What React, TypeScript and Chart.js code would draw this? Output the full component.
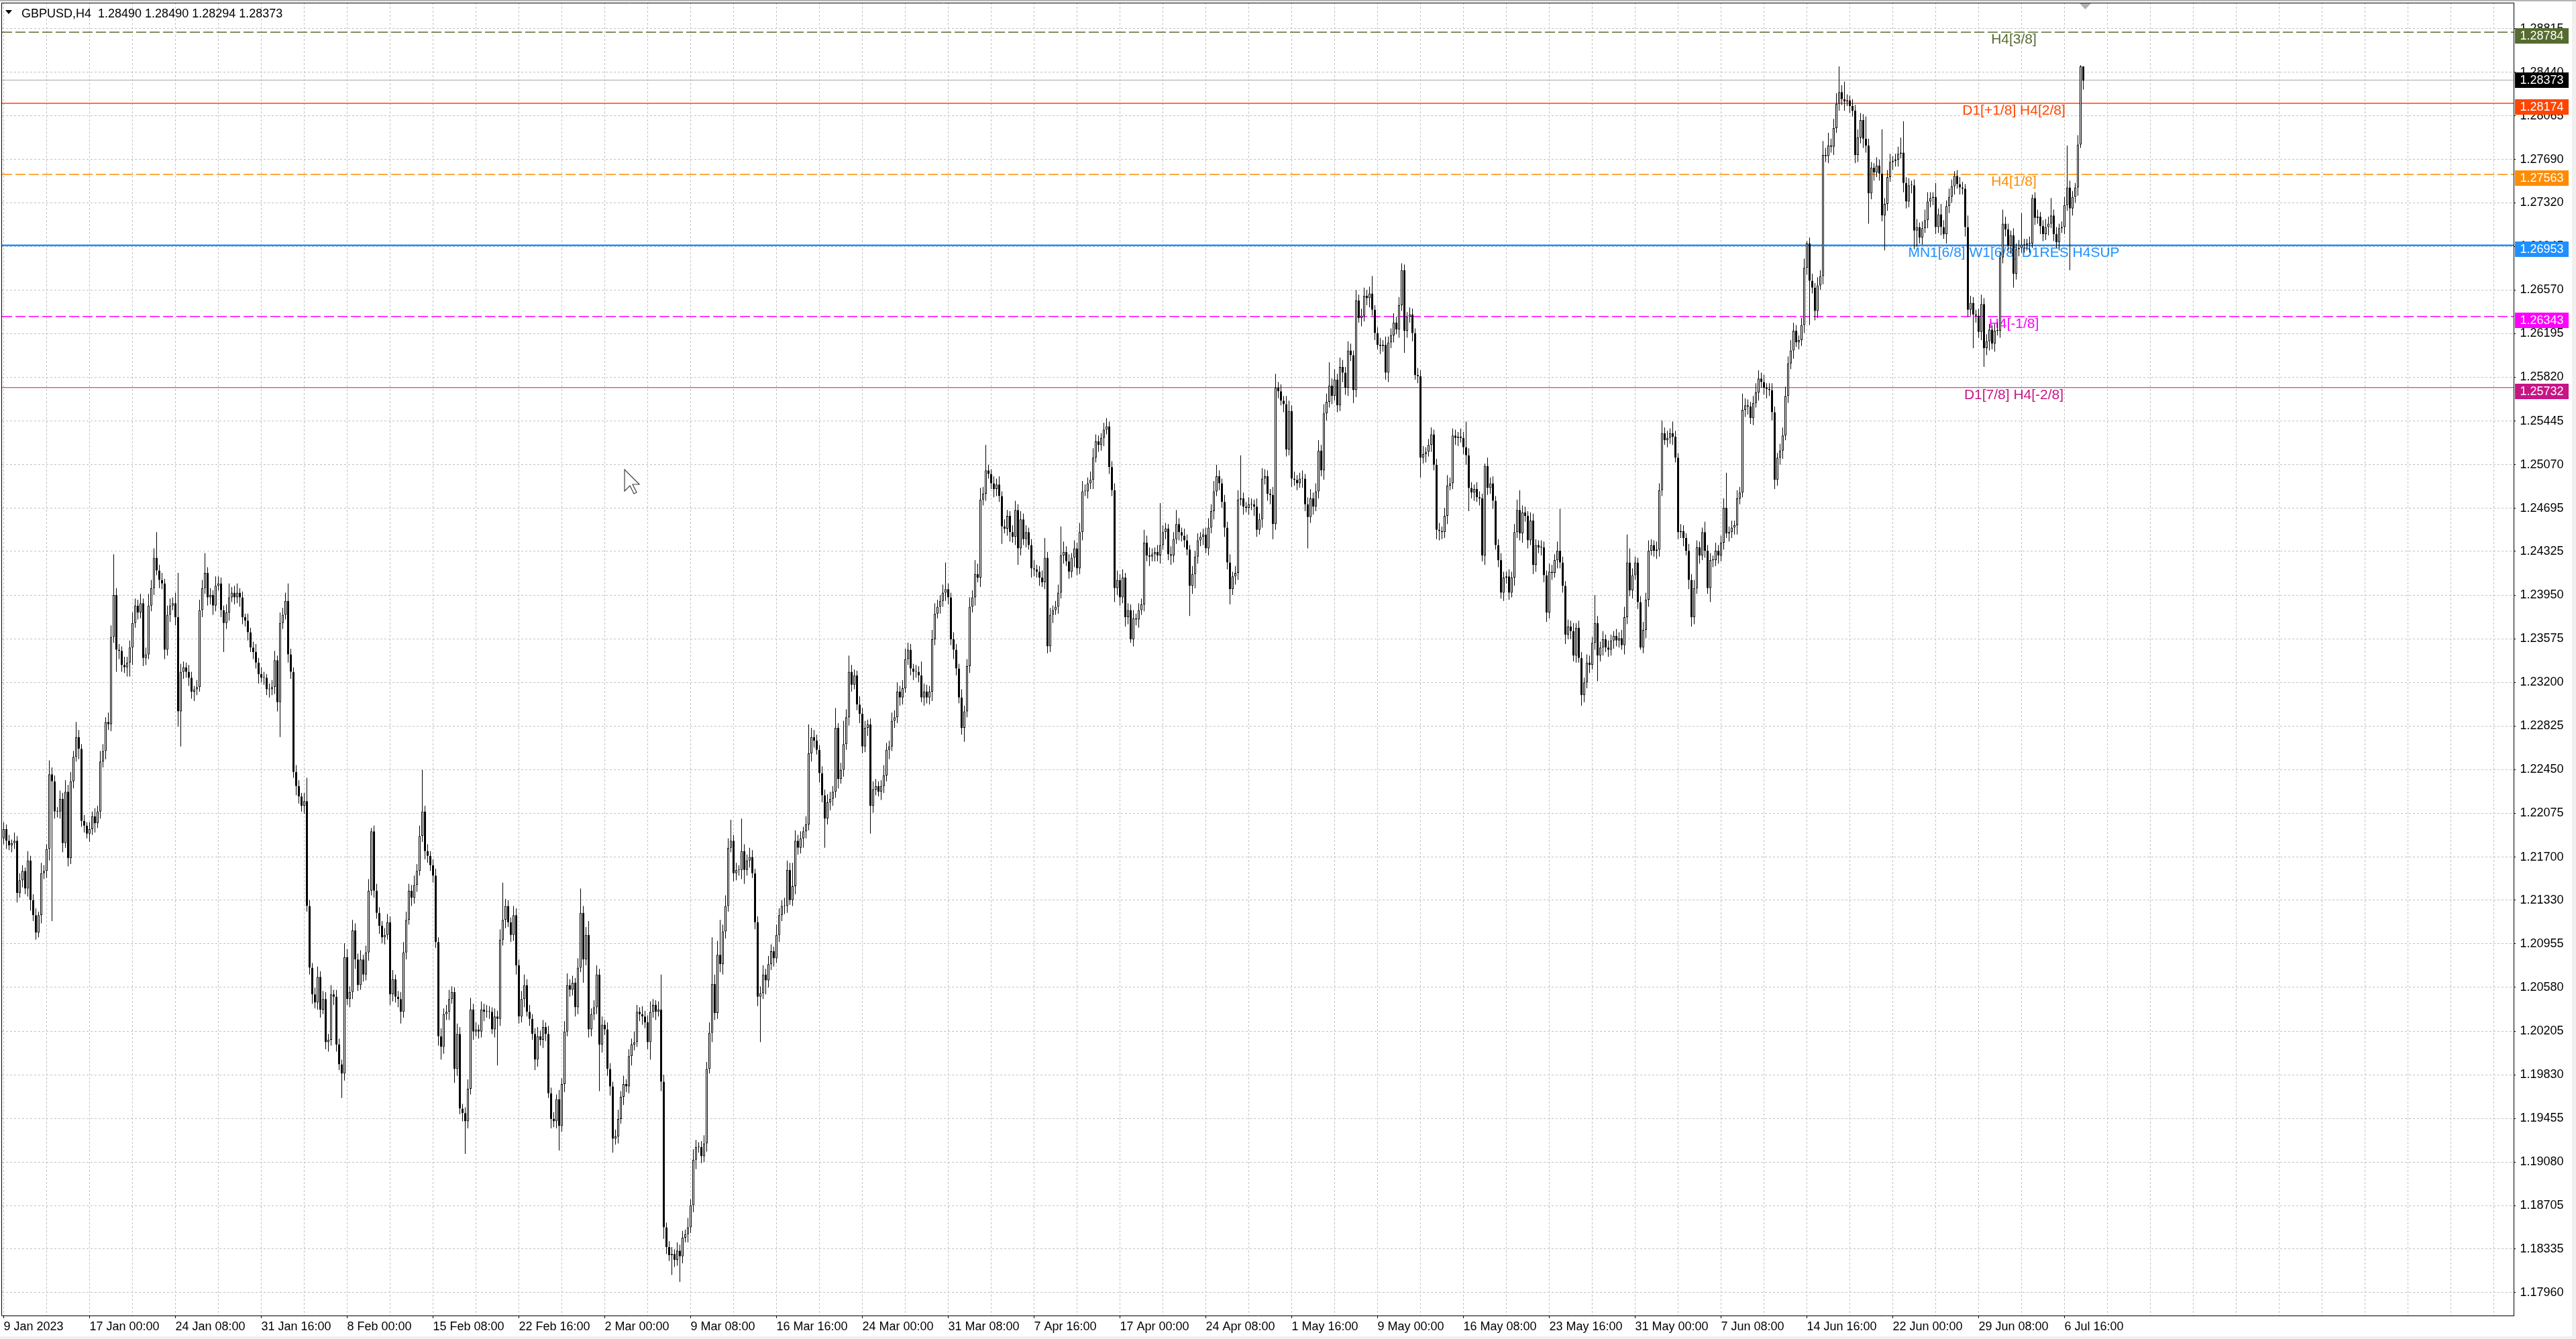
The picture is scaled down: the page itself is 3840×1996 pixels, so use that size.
import React, { useEffect, useRef } from 'react';
import { Chart, registerables } from 'chart.js';

Chart.register(...registerables);

const FONT = "'Liberation Sans', Arial, sans-serif";

const symbolTitle = 'GBPUSD,H4  1.28490 1.28490 1.28294 1.28373';

const timeLabels = [
  '9 Jan 2023', '17 Jan 00:00', '24 Jan 08:00', '31 Jan 16:00', '8 Feb 00:00', '15 Feb 08:00',
  '22 Feb 16:00', '2 Mar 00:00', '9 Mar 08:00', '16 Mar 16:00', '24 Mar 00:00', '31 Mar 08:00',
  '7 Apr 16:00', '17 Apr 00:00', '24 Apr 08:00', '1 May 16:00', '9 May 00:00', '16 May 08:00',
  '23 May 16:00', '31 May 00:00', '7 Jun 08:00', '14 Jun 16:00', '22 Jun 00:00', '29 Jun 08:00',
  '6 Jul 16:00',
];

const priceTicks = [
  1.1796, 1.18335, 1.18705, 1.1908, 1.19455, 1.1983, 1.20205, 1.2058, 1.20955, 1.2133,
  1.217, 1.22075, 1.2245, 1.22825, 1.232, 1.23575, 1.2395, 1.24325, 1.24695, 1.2507,
  1.25445, 1.2582, 1.26195, 1.2657, 1.26945, 1.2732, 1.2769, 1.28065, 1.2844, 1.28815,
];

// H4 candles, prices in 1/10000 (e.g. 12194 = 1.2194); open of each bar = previous close
const firstOpenPips = 12186;
const closePips = [
  12194,12184,12180,12182,12184,12139,12150,12158,12143,12167,12133,12120,12105,12120,12156,12158,12177,12241,12235,12209,
  12209,12220,12182,12226,12169,12235,12256,12273,12263,12201,12197,12190,12194,12205,12199,12209,12252,12261,12286,12284,
  12359,12395,12348,12347,12335,12333,12337,12350,12371,12386,12380,12388,12341,12344,12386,12401,12427,12416,12408,12405,
  12348,12378,12386,12388,12376,12295,12329,12333,12329,12324,12312,12314,12316,12382,12401,12414,12393,12395,12386,12403,
  12405,12382,12371,12380,12393,12397,12393,12397,12393,12376,12373,12363,12350,12346,12337,12327,12324,12324,12314,12314,
  12316,12339,12303,12371,12378,12390,12344,12329,12243,12231,12222,12214,12218,12128,12075,12052,12045,12067,12039,12048,
  12011,12013,12052,12050,12009,11992,11984,12084,12048,12054,12107,12082,12060,12082,12069,12088,12141,12192,12141,12122,
  12111,12101,12103,12114,12052,12065,12050,12048,12037,12088,12116,12141,12135,12146,12158,12188,12209,12175,12171,12163,
  12154,12097,12016,12007,12035,12037,12048,12054,11988,12018,11954,11950,11943,11971,12039,12020,12022,12020,12039,12037,
  12037,12037,12022,12033,12031,12099,12116,12128,12114,12103,12120,12077,12033,12048,12060,12037,12031,12018,11996,12016,
  12013,12024,12018,11967,11945,11943,11962,11939,11975,12020,12060,12056,12062,12041,12075,12122,12082,12103,12022,12035,
  12041,12069,12009,12026,12022,11988,11973,11928,11930,11945,11964,11975,11973,11999,12009,12011,12037,12035,12033,12028,
  12011,12037,12043,12037,12039,11977,11852,11835,11828,11829,11824,11832,11827,11843,11846,11852,11871,11910,11921,11921,
  11913,11924,11988,12019,12061,12036,12086,12078,12106,12128,12178,12184,12156,12159,12159,12175,12159,12167,12170,12156,
  12114,12050,12053,12069,12064,12078,12089,12083,12103,12120,12128,12128,12159,12133,12145,12184,12178,12186,12192,12198,
  12259,12273,12270,12262,12242,12223,12203,12217,12220,12226,12281,12237,12245,12267,12290,12329,12318,12326,12301,12293,
  12265,12281,12284,12214,12228,12231,12226,12231,12240,12262,12265,12287,12290,12312,12307,12315,12340,12348,12332,12329,
  12329,12326,12307,12312,12307,12312,12357,12379,12385,12390,12397,12400,12393,12357,12348,12332,12307,12281,12295,12334,
  12385,12393,12413,12410,12477,12482,12502,12499,12491,12486,12490,12480,12454,12452,12463,12449,12445,12468,12435,12460,
  12443,12449,12438,12418,12417,12415,12410,12406,12427,12351,12378,12382,12385,12397,12429,12432,12424,12415,12427,12435,
  12418,12449,12484,12484,12491,12494,12513,12527,12524,12530,12537,12540,12505,12485,12401,12408,12393,12410,12376,12382,
  12357,12375,12374,12382,12387,12440,12429,12428,12430,12432,12429,12438,12449,12452,12430,12429,12443,12456,12449,12446,
  12442,12434,12403,12413,12428,12442,12445,12447,12435,12453,12467,12484,12497,12491,12475,12453,12423,12400,12411,12414,
  12477,12478,12471,12470,12473,12473,12471,12451,12460,12495,12497,12482,12481,12456,12573,12570,12562,12559,12520,12553,
  12495,12494,12491,12495,12495,12473,12462,12478,12471,12484,12519,12502,12551,12561,12575,12566,12580,12558,12591,12586,
  12573,12605,12601,12571,12648,12633,12635,12652,12650,12654,12640,12620,12610,12609,12610,12586,12612,12618,12629,12623,
  12644,12674,12622,12634,12636,12620,12584,12583,12513,12516,12518,12524,12533,12507,12451,12450,12449,12463,12489,12491,
  12532,12530,12531,12530,12522,12515,12487,12483,12486,12479,12478,12429,12506,12487,12491,12476,12438,12425,12397,12410,
  12411,12397,12410,12449,12468,12448,12466,12463,12442,12459,12421,12438,12436,12436,12412,12380,12415,12414,12425,12433,
  12423,12403,12361,12368,12364,12343,12367,12341,12309,12320,12337,12335,12354,12371,12343,12350,12357,12350,12348,12356,
  12360,12356,12358,12352,12376,12423,12399,12412,12423,12389,12350,12365,12391,12433,12438,12433,12434,12485,12534,12528,
  12530,12534,12531,12513,12449,12450,12444,12433,12408,12376,12401,12436,12429,12449,12433,12401,12425,12425,12433,12429,
  12440,12470,12448,12449,12453,12455,12478,12483,12554,12558,12557,12547,12560,12569,12581,12578,12573,12572,12571,12552,
  12494,12513,12519,12532,12566,12594,12605,12622,12612,12614,12627,12676,12697,12665,12659,12639,12661,12669,12773,12772,
  12781,12780,12796,12817,12827,12821,12819,12820,12815,12811,12773,12788,12803,12787,12781,12740,12762,12758,12764,12757,
  12721,12731,12754,12767,12768,12769,12774,12775,12749,12733,12747,12747,12708,12711,12702,12710,12717,12733,12736,12737,
  12711,12722,12711,12705,12729,12737,12746,12755,12748,12745,12744,12711,12640,12646,12636,12635,12621,12645,12607,12613,
  12623,12611,12622,12622,12685,12714,12709,12695,12704,12671,12692,12693,12696,12696,12697,12697,12736,12719,12720,12712,
  12705,12711,12714,12721,12705,12698,12710,12711,12730,12745,12727,12737,12745,12782,12849,12837,
];

// distance of high above the body top, in pips
const upWickPips = [
  6,4,5,3,7,4,6,5,3,8,4,5,6,3,9,5,4,12,6,5,
  4,7,5,10,6,8,5,13,6,4,5,3,6,4,7,5,9,6,4,8,
  10,35,6,5,4,7,5,6,9,6,5,8,4,6,10,7,8,22,5,6,
  4,8,6,5,9,38,7,5,4,6,5,3,6,9,7,17,5,6,4,8,
  6,5,4,7,12,5,6,8,4,5,3,6,4,5,7,4,6,5,3,5,
  6,8,4,9,6,7,15,5,4,6,5,3,7,20,5,4,6,9,5,7,
  6,5,8,4,6,5,4,12,7,5,9,6,5,8,4,6,10,3,5,6,
  5,4,6,7,5,8,4,5,6,9,7,6,5,8,6,9,36,5,6,4,
  5,6,4,7,5,6,8,5,4,9,6,4,5,8,10,5,6,4,7,5,
  6,5,4,7,5,9,32,6,5,4,8,6,5,7,9,5,6,4,5,8,
  5,6,4,7,5,6,4,8,5,9,10,5,6,4,8,21,6,7,12,5,
  6,8,5,7,4,6,5,4,6,8,5,7,4,6,5,9,6,4,7,5,
  6,9,5,4,7,30,6,4,5,6,4,7,5,6,4,8,5,9,6,4,
  5,7,6,9,40,8,12,30,6,9,8,18,5,6,4,28,6,5,8,6,
  4,5,6,8,5,7,6,4,9,6,5,7,8,6,20,9,5,6,4,7,
  25,8,6,5,4,6,5,7,6,5,17,4,6,20,7,14,6,5,4,7,
  5,6,4,5,7,6,4,5,9,6,5,7,6,8,5,7,9,6,5,4,
  6,5,12,7,6,5,8,9,6,5,7,23,5,4,6,5,4,7,5,6,
  8,6,12,9,10,6,22,5,4,6,5,7,4,6,5,4,6,8,5,7,
  5,6,4,5,7,4,5,6,17,5,6,4,5,7,25,9,5,6,4,7,
  5,8,9,6,5,7,8,6,5,4,6,7,4,5,6,8,5,7,4,6,
  5,7,4,6,5,11,6,7,5,4,6,36,6,5,4,7,6,12,5,4,
  6,5,4,7,5,6,4,5,6,8,6,9,10,5,4,6,5,7,4,6,
  8,37,5,4,6,5,4,7,5,9,6,5,4,7,12,5,6,4,7,9,
  5,6,4,5,7,4,6,8,5,7,9,5,8,7,20,6,9,5,8,6,
  5,8,6,4,9,5,6,7,5,6,15,4,5,6,4,7,5,6,8,5,
  7,6,5,4,6,5,4,6,5,7,4,5,6,4,5,6,4,7,9,5,
  6,5,4,7,5,22,6,5,4,6,5,4,2,7,5,6,4,5,6,5,
  4,6,5,7,9,17,6,5,4,7,6,5,4,6,5,4,7,6,5,8,
  36,5,4,6,5,7,4,6,5,4,7,6,5,24,6,5,7,4,6,5,
  4,6,5,7,9,24,12,6,5,4,5,7,6,9,5,4,7,6,11,5,
  6,4,10,5,4,6,5,4,6,5,7,6,5,4,9,5,6,4,7,5,
  6,8,30,5,6,4,7,5,14,6,5,4,6,8,7,5,6,4,5,6,
  5,4,6,7,8,6,9,7,5,4,6,8,2,5,6,4,7,5,12,6,
  11,6,8,9,22,6,15,5,4,6,5,7,6,5,19,6,5,4,7,5,
  38,5,6,7,4,5,6,13,27,5,6,4,5,7,4,6,9,8,5,4,
  12,5,9,6,5,7,6,4,5,6,5,4,10,6,5,4,6,8,5,6,
  5,4,6,7,5,12,6,5,4,6,5,7,27,5,4,6,3,5,6,4,
  5,7,6,15,5,6,4,5,7,36,6,5,4,8,1,0,
];

// distance of low below the body bottom, in pips
const downWickPips = [
  5,7,4,6,5,8,4,6,5,7,9,5,6,4,7,5,6,10,120,6,
  5,6,8,4,7,5,6,4,9,5,6,4,7,5,8,4,6,5,7,5,
  6,5,19,7,6,5,8,12,15,4,6,5,7,6,4,5,6,4,7,5,
  8,5,6,4,7,13,30,6,5,7,6,8,5,4,6,5,7,6,8,5,
  4,6,25,5,7,4,6,5,8,6,5,7,4,6,5,8,4,6,5,7,
  5,6,8,30,5,4,7,6,5,8,6,5,7,5,6,8,5,6,7,4,
  6,8,5,7,6,5,21,6,5,7,6,8,5,4,6,5,7,4,6,5,
  7,5,6,4,9,6,5,7,10,5,6,4,7,5,6,4,5,7,6,5,
  6,5,8,11,6,5,7,4,12,6,5,7,28,6,5,7,4,6,5,8,
  5,6,4,7,40,6,5,7,4,6,5,8,6,5,7,4,6,5,9,6,
  5,7,6,4,8,5,6,21,5,7,4,6,5,8,6,4,20,5,7,6,
  5,6,40,7,5,6,8,12,5,6,4,7,5,6,8,5,4,6,7,5,
  6,15,5,7,4,8,10,6,5,17,6,5,22,6,4,7,5,6,8,5,
  6,5,7,4,8,6,5,7,9,6,5,4,7,6,5,8,12,5,6,4,
  6,8,39,5,12,6,5,7,4,6,5,7,6,4,5,7,6,5,8,6,
  5,7,6,4,8,6,25,5,7,6,5,8,4,6,5,7,6,4,5,8,
  6,5,7,24,6,5,4,7,6,5,8,4,6,5,7,6,4,5,6,7,
  5,6,4,7,5,6,8,5,4,6,5,7,6,5,8,6,5,6,12,5,
  6,5,7,4,8,5,6,4,5,7,6,5,15,4,6,8,5,7,14,6,
  5,7,4,8,6,5,7,4,6,6,5,7,4,6,5,7,4,6,5,8,
  6,5,7,4,6,5,8,4,6,5,7,4,6,5,12,6,7,5,8,6,
  3,6,5,7,4,6,5,8,4,6,5,7,4,6,5,8,6,4,7,5,
  6,5,26,7,12,6,5,7,4,6,5,7,4,6,5,8,6,13,5,7,
  6,5,7,4,6,5,8,6,4,7,5,6,8,13,5,6,4,7,6,5,
  7,5,6,4,8,6,27,5,7,4,6,5,8,6,5,7,4,6,5,8,
  6,7,5,11,6,4,7,5,6,8,5,6,4,7,5,6,8,5,6,4,
  7,5,19,6,5,7,4,6,17,5,7,4,6,5,8,8,6,5,7,4,
  5,6,7,4,6,8,20,5,7,4,6,5,8,6,5,7,4,6,5,7,
  5,6,4,7,5,6,8,5,7,4,8,6,5,7,6,8,5,6,4,7,
  5,6,8,4,7,5,6,4,9,6,5,7,4,6,22,5,7,4,6,5,
  7,5,6,4,8,6,5,7,4,6,2,5,7,6,4,5,7,6,5,4,
  6,5,7,4,6,5,7,4,8,8,6,5,7,4,6,5,12,6,5,7,
  5,6,4,7,5,6,8,5,4,6,7,5,6,4,7,5,6,8,5,7,
  8,5,6,7,4,6,5,7,4,6,5,7,6,38,5,8,6,4,7,5,
  6,5,7,4,6,5,8,4,6,5,7,6,5,8,6,26,5,7,4,6,
  5,30,6,4,7,5,6,4,8,6,5,7,16,14,5,6,4,7,5,6,
  6,5,7,4,8,6,5,7,4,6,5,8,6,5,29,6,5,7,16,6,
  8,5,7,4,6,5,6,4,7,12,5,6,4,7,5,8,4,6,5,7,
  6,5,7,4,6,5,7,4,6,5,53,6,5,7,3,8,
];

const levelPrices = [1.28784, 1.28174, 1.27563, 1.26953, 1.26343, 1.25732];
const levelNames = [
  'H4[3/8]', 'D1[+1/8] H4[2/8]', 'H4[1/8]', 'MN1[6/8] W1[6/8] D1RES H4SUP', 'H4[-1/8]', 'D1[7/8] H4[-2/8]',
];
const bidPrice = 1.28373;

export default function App() {
  const canvasRef = useRef<HTMLCanvasElement | null>(null);

  useEffect(() => {
    document.body.style.margin = '0';
    const canvas = canvasRef.current;
    if (!canvas) return;

    const levelStyles = [
      { color: '#556B2F', width: 1.5, dash: [15, 5] },
      { color: '#FF4500', width: 1.5, dash: [] as number[] },
      { color: '#FF8C00', width: 1.5, dash: [15, 5] },
      { color: '#1E90FF', width: 2.5, dash: [] as number[] },
      { color: '#FF00FF', width: 1.5, dash: [15, 5] },
      { color: '#C71585', width: 1.2, dash: [] as number[] },
    ];

    const opens = closePips.map((c, i) => (i === 0 ? firstOpenPips : closePips[i - 1]));
    const bodies = closePips.map((c, i) => ({ x: i, y: [opens[i] / 1e4, c / 1e4] }));
    const wicks = closePips.map((c, i) => ({
      x: i,
      y: [
        (Math.min(opens[i], c) - downWickPips[i]) / 1e4,
        (Math.max(opens[i], c) + upWickPips[i]) / 1e4,
      ],
    }));
    const bodyColors = closePips.map((c, i) => (c >= opens[i] ? '#ffffff' : '#000000'));
    const gridBars = Array.from({ length: 59 }, (_, k) => k * 16);

    const overlay = {
      id: 'mt4overlay',
      beforeDraw(chart: any) {
        const c = chart.ctx;
        c.save();
        c.fillStyle = '#ffffff';
        c.fillRect(0, 0, chart.width, chart.height);
        c.restore();
      },
      beforeDatasetsDraw(chart: any) {
        const c = chart.ctx;
        const ys = chart.scales.y;
        const a = chart.chartArea;
        c.save();
        c.beginPath();
        c.rect(a.left, a.top, a.right - a.left, a.bottom - a.top);
        c.clip();
        const by = ys.getPixelForValue(bidPrice);
        c.strokeStyle = '#c0c0c0';
        c.lineWidth = 1.5;
        c.setLineDash([]);
        c.beginPath();
        c.moveTo(a.left, by);
        c.lineTo(a.right, by);
        c.stroke();
        levelPrices.forEach((p, k) => {
          const st = levelStyles[k];
          const ly = ys.getPixelForValue(p);
          c.strokeStyle = st.color;
          c.lineWidth = st.width;
          c.setLineDash(st.dash);
          c.beginPath();
          c.moveTo(a.left, ly);
          c.lineTo(a.right, ly);
          c.stroke();
          c.setLineDash([]);
          c.fillStyle = st.color;
          c.font = `21px ${FONT}`;
          c.textAlign = 'center';
          c.textBaseline = 'alphabetic';
          c.fillText(levelNames[k], 3002, ly + 17);
        });
        c.restore();
      },
      afterDraw(chart: any) {
        const c = chart.ctx;
        const ys = chart.scales.y;
        const a = chart.chartArea;
        c.save();
        // frame
        c.strokeStyle = '#000000';
        c.lineWidth = 1;
        c.beginPath();
        c.moveTo(2, 4.5);
        c.lineTo(a.right + 0.5, 4.5);
        c.moveTo(2.5, 4);
        c.lineTo(2.5, a.bottom + 0.5);
        c.stroke();
        // window edges
        c.fillStyle = '#b4b4b4';
        c.fillRect(0, 0, chart.width, 2);
        c.fillStyle = '#f0f0f0';
        c.fillRect(3834, 2, 6, chart.height - 2);
        c.fillRect(0, 1992, chart.width, 4);
        // price boxes on the axis
        const boxes = levelPrices.map((p, k) => ({ p, color: levelStyles[k].color, dy: -6 }));
        boxes.push({ p: bidPrice, color: '#000000', dy: -11 });
        c.font = `18px ${FONT}`;
        c.textAlign = 'left';
        c.textBaseline = 'middle';
        boxes.forEach((b) => {
          const ly = ys.getPixelForValue(b.p);
          const top = Math.round(ly + b.dy);
          c.fillStyle = b.color;
          c.fillRect(3749, top, 80, 23);
          c.fillStyle = '#ffffff';
          c.fillText(b.p.toFixed(5), 3756.5, top + 12);
        });
        // title
        c.fillStyle = '#000000';
        c.beginPath();
        c.moveTo(8, 15);
        c.lineTo(18, 15);
        c.lineTo(13, 21);
        c.closePath();
        c.fill();
        c.font = `18px ${FONT}`;
        c.textBaseline = 'alphabetic';
        c.textAlign = 'left';
        c.fillText(symbolTitle, 32, 26);
        // chart shift marker
        c.fillStyle = '#b0b0b0';
        c.beginPath();
        c.moveTo(3100, 5);
        c.lineTo(3117, 5);
        c.lineTo(3108.5, 14);
        c.closePath();
        c.fill();
        // mouse cursor
        const cur = [[0, 0], [0, 16], [4, 12], [7, 18], [9, 17], [6, 11], [11, 11]];
        c.translate(931, 700);
        c.scale(2, 2);
        c.beginPath();
        cur.forEach(([px, py], k) => (k === 0 ? c.moveTo(px, py) : c.lineTo(px, py)));
        c.closePath();
        c.fillStyle = '#ffffff';
        c.fill();
        c.strokeStyle = '#404040';
        c.lineWidth = 0.6;
        c.stroke();
        c.restore();
      },
    };

    const chart = new Chart(canvas, {
      type: 'bar',
      data: {
        datasets: [
          {
            label: 'wicks',
            data: wicks as any,
            backgroundColor: '#000000',
            borderWidth: 0,
            barThickness: 1,
            grouped: false,
            inflateAmount: 0,
            order: 2,
          } as any,
          {
            label: 'bodies',
            data: bodies as any,
            backgroundColor: bodyColors,
            borderColor: '#000000',
            borderWidth: 1,
            borderSkipped: false,
            barThickness: 3,
            minBarLength: 1,
            grouped: false,
            inflateAmount: 0,
            order: 1,
          } as any,
        ],
      },
      options: {
        animation: false,
        responsive: false,
        maintainAspectRatio: false,
        devicePixelRatio: 1,
        events: [],
        layout: { padding: { left: 3, top: 4, right: 0, bottom: 0 } },
        plugins: { legend: { display: false }, tooltip: { enabled: false }, title: { display: false } },
        scales: {
          x: {
            type: 'linear',
            min: -0.625,
            max: 935.375,
            offset: false,
            afterBuildTicks: (s: any) => {
              s.ticks = gridBars.map((v) => ({ value: v }));
            },
            afterFit: (s: any) => {
              s.height = 35;
              s.paddingLeft = 0;
              s.paddingRight = 0;
            },
            grid: {
              offset: false,
              color: '#c0c0c0',
              lineWidth: 1,
              drawTicks: true,
              tickLength: 4,
              tickWidth: 1,
              tickColor: (ctx: any) =>
                ctx.index % 2 === 0 && ctx.index / 2 < timeLabels.length ? '#000000' : 'rgba(0,0,0,0)',
            },
            border: { display: true, color: '#000000', width: 1, dash: [3, 3] },
            ticks: {
              autoSkip: false,
              maxRotation: 0,
              minRotation: 0,
              align: 'start',
              padding: 2,
              color: '#000000',
              font: { family: FONT, size: 18 },
              callback: (_v: any, idx: number) => (idx % 2 === 0 ? timeLabels[idx / 2] ?? '' : ''),
            },
          },
          y: {
            type: 'linear',
            position: 'right',
            min: 1.17762,
            max: 1.29038,
            beginAtZero: false,
            afterBuildTicks: (s: any) => {
              s.ticks = priceTicks.map((v) => ({ value: v }));
            },
            afterFit: (s: any) => {
              s.width = 93;
              s.paddingTop = 0;
              s.paddingBottom = 0;
            },
            grid: {
              color: '#c0c0c0',
              lineWidth: 1,
              drawTicks: true,
              tickLength: 3,
              tickWidth: 1,
              tickColor: '#000000',
            },
            border: { display: true, color: '#000000', width: 1, dash: [3, 3] },
            ticks: {
              padding: 6.5,
              crossAlign: 'near',
              color: '#000000',
              font: { family: FONT, size: 18 },
              callback: (v: any) => Number(v).toFixed(5),
            },
          },
        },
      } as any,
      plugins: [overlay],
    });

    return () => {
      chart.destroy();
    };
  }, []);

  return (
    <div style={{ position: 'absolute', left: 0, top: 0, width: 3840, height: 1996, background: '#ffffff' }}>
      <canvas ref={canvasRef} width={3840} height={1996} style={{ display: 'block', width: 3840, height: 1996 }} />
    </div>
  );
}
